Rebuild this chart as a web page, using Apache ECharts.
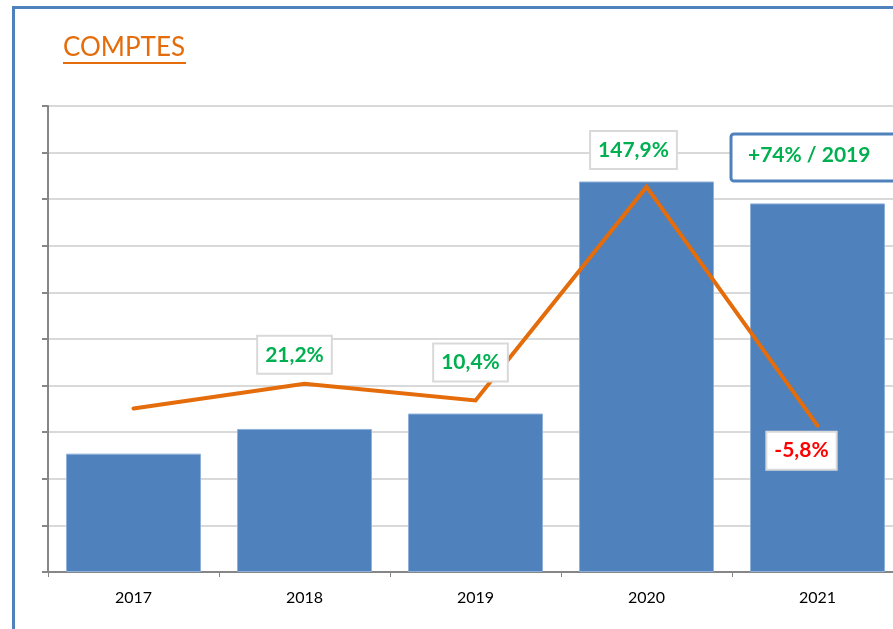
<!DOCTYPE html>
<html>
<head>
<meta charset="utf-8">
<script src="https://cdn.jsdelivr.net/npm/echarts@6/dist/echarts.min.js"></script>
<style>
  html, body { margin: 0; padding: 0; background: #fff; }
  #chart { width: 893px; height: 629px; }
</style>
</head>
<body>
<div id="chart"></div>
<script>
// données
const years = ['2017', '2018', '2019', '2020', '2021']
const comptes = [2.54, 3.07, 3.40, 8.38, 7.91]
const evolution = [5.3, 21.2, 10.4, 147.9, -5.8]
const labelShown = [false, true, true, true, true]
const noteText = '+74% / 2019'

const myChart = echarts.init(document.getElementById('chart'))

// décalage de chaque étiquette par rapport au point
const labelOffsets = [[0, 0], [-10, -29], [-5, -38], [-13, -37], [-16, 25]]

const fmt = v => v.toFixed(1).replace('.', ',') + '%'

const options = {
    animation: false,
    textStyle: { fontFamily: 'Lato' },
    grid: {
        left: 48,
        right: -10,
        top: 106,
        bottom: 57,
        outerBoundsMode: 'none'
    },
    graphic: [
        // cadre bleu
        {
            type: 'rect',
            shape: { x: 13.5, y: 7.5, width: 1000, height: 700 },
            style: { fill: 'none', stroke: '#4f81bd', lineWidth: 3 },
            silent: true
        },
        // titre souligné
        {
            type: 'text',
            left: 63,
            top: 35,
            style: { text: 'COMPTES', fill: '#e46c0a', font: '26px Lato' }
        },
        {
            type: 'rect',
            shape: { x: 63, y: 62, width: 123, height: 2 },
            style: { fill: '#e46c0a' }
        },
        // encadré
        {
            type: 'rect',
            shape: { x: 731, y: 134, width: 200, height: 47, r: 3 },
            style: { fill: '#fff', stroke: '#4f81bd', lineWidth: 3 },
            z: 20
        },
        {
            type: 'text',
            left: 748,
            top: 145,
            style: { text: noteText, fill: '#00b050', font: 'bold 21px Lato' },
            z: 21
        }
    ],
    xAxis: {
        type: 'category',
        data: years,
        axisLine: { lineStyle: { color: '#868686', width: 2 } },
        axisTick: { show: true, length: 5, lineStyle: { color: '#868686' } },
        axisLabel: { color: '#000', fontSize: 16, margin: 18, fontFamily: 'Lato' }
    },
    yAxis: [
        {
            type: 'value',
            min: 0,
            max: 10,
            interval: 1,
            axisLine: { show: true, lineStyle: { color: '#868686', width: 2 } },
            axisTick: { show: true, inside: false, length: 6, lineStyle: { color: '#868686', width: 2 } },
            axisLabel: { show: false },
            splitLine: { lineStyle: { color: '#d9d9d9', width: 2 } }
        },
        {
            type: 'value',
            min: -100,
            max: 200,
            show: false,
            splitLine: { show: false }
        }
    ],
    series: [
        {
            type: 'bar',
            data: comptes,
            barWidth: 135,
            itemStyle: {
                color: '#4f81bd',
                borderColor: '#8fb1d9',
                borderWidth: 1
            },
            z: 2
        },
        {
            type: 'line',
            yAxisIndex: 1,
            data: evolution.map((v, i) => ({
                value: v,
                label: {
                    show: labelShown[i],
                    position: 'inside',
                    offset: labelOffsets[i],
                    color: v < 0 ? '#ff0000' : '#00b050'
                }
            })),
            symbol: 'circle',
            symbolSize: 1,
            showSymbol: true,
            itemStyle: { color: '#e46c0a' },
            lineStyle: { color: '#e46c0a', width: 4, cap: 'round', join: 'miter' },
            label: {
                show: true,
                formatter: p => fmt(p.value),
                fontSize: 21,
                fontWeight: 'bold',
                fontFamily: 'Lato',
                backgroundColor: '#fff',
                borderColor: '#d9d9d9',
                borderWidth: 2,
                padding: [8, 7, 7, 7]
            },
            z: 5
        }
    ]
}
myChart.setOption(options)
</script>
</body>
</html>
